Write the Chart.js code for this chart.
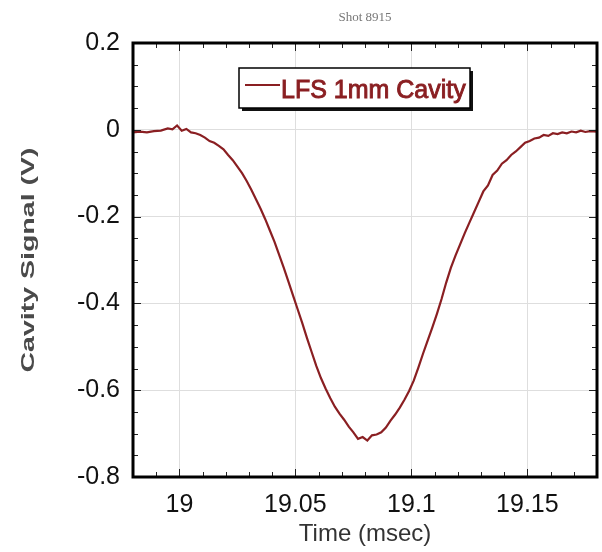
<!DOCTYPE html>
<html>
<head>
<meta charset="utf-8">
<title>Shot 8915</title>
<script src="https://cdn.jsdelivr.net/npm/chart.js@4.4.1/dist/chart.umd.min.js"></script>
<style>
  html, body { margin: 0; padding: 0; background: #fff; }
  #wrap { width: 602px; height: 552px; }
</style>
</head>
<body>
<div id="wrap"><canvas id="cavity-chart" width="602" height="552"></canvas></div>
<script>
  // Time axis samples (msec)
  const timeMs = [
    18.980, 18.983, 18.986, 18.989, 18.992, 18.995, 18.997, 18.999, 19.001, 19.003,
    19.005, 19.007, 19.009, 19.011, 19.013, 19.015, 19.017, 19.019, 19.021, 19.023,
    19.025, 19.027, 19.029, 19.031, 19.033, 19.035, 19.037, 19.039, 19.041, 19.043,
    19.045, 19.047, 19.049, 19.051, 19.053, 19.055, 19.057, 19.059, 19.061, 19.063,
    19.065, 19.067, 19.069, 19.071, 19.073, 19.075, 19.077, 19.079, 19.081, 19.083,
    19.085, 19.087, 19.089, 19.091, 19.093, 19.095, 19.097, 19.099, 19.101, 19.103,
    19.105, 19.107, 19.109, 19.111, 19.113, 19.115, 19.117, 19.119, 19.121, 19.123,
    19.125, 19.127, 19.129, 19.131, 19.133, 19.135, 19.137, 19.139, 19.141, 19.143,
    19.145, 19.147, 19.149, 19.151, 19.153, 19.155, 19.157, 19.159, 19.161, 19.163,
    19.165, 19.167, 19.169, 19.171, 19.173, 19.175, 19.177, 19.180
  ];

  // LFS 1mm cavity signal (V)
  const cavitySignal = [
    -0.006, -0.004, -0.006, -0.003, -0.002, 0.003, 0.001, 0.010, -0.002, 0.002,
    -0.006, -0.008, -0.012, -0.018, -0.026, -0.030, -0.037, -0.045, -0.058, -0.070,
    -0.085, -0.100, -0.118, -0.138, -0.160, -0.182, -0.206, -0.232, -0.258, -0.288,
    -0.318, -0.350, -0.382, -0.414, -0.446, -0.480, -0.512, -0.544, -0.572, -0.596,
    -0.618, -0.638, -0.654, -0.668, -0.684, -0.697, -0.712, -0.708, -0.716, -0.704,
    -0.702, -0.697, -0.686, -0.670, -0.656, -0.640, -0.622, -0.602, -0.578, -0.548,
    -0.516, -0.486, -0.456, -0.424, -0.390, -0.352, -0.318, -0.290, -0.264, -0.238,
    -0.214, -0.190, -0.166, -0.142, -0.128, -0.104, -0.094, -0.078, -0.070, -0.058,
    -0.050, -0.040, -0.030, -0.026, -0.020, -0.018, -0.012, -0.014, -0.008, -0.010,
    -0.006, -0.008, -0.004, -0.006, -0.002, -0.005, -0.003, -0.004
  ];

  const xTickValues = [19, 19.05, 19.1, 19.15];
  const yTickValues = [-0.8, -0.6, -0.4, -0.2, 0, 0.2];
  const seriesLabel = 'LFS 1mm Cavity';
  const yAxisLabel = 'Cavity Signal (V)';

  const lineColor = '#8a1f22';

  function fmt(v) {
    return String(Math.round(v * 1000) / 1000);
  }

  // Frame, inward minor ticks, y title and boxed legend
  const framePlugin = {
    id: 'frame',
    afterDraw: function (chart) {
      const ctx = chart.ctx;
      const a = chart.chartArea;
      const xs = chart.scales.x;
      const ys = chart.scales.y;
      ctx.save();

      // minor ticks
      ctx.strokeStyle = '#222';
      ctx.lineWidth = 1;
      ctx.beginPath();
      for (let i = 0; i <= 20; i++) {
        const v = 18.98 + i * 0.01;
        const px = Math.round(xs.getPixelForValue(v)) + 0.5;
        const len = (Math.abs(v * 20 - Math.round(v * 20)) < 1e-6) ? 8 : 5;
        ctx.moveTo(px, a.bottom); ctx.lineTo(px, a.bottom - len);
        ctx.moveTo(px, a.top); ctx.lineTo(px, a.top + len);
      }
      for (let j = 0; j <= 20; j++) {
        const v = -0.8 + j * 0.05;
        const py = Math.round(ys.getPixelForValue(v)) + 0.5;
        const len = (Math.abs(v * 5 - Math.round(v * 5)) < 1e-6) ? 8 : 5;
        ctx.moveTo(a.left, py); ctx.lineTo(a.left + len, py);
        ctx.moveTo(a.right, py); ctx.lineTo(a.right - len, py);
      }
      ctx.stroke();

      // frame
      ctx.strokeStyle = '#000';
      ctx.lineWidth = 3;
      ctx.strokeRect(a.left, a.top, a.right - a.left, a.bottom - a.top);

      // y axis title, stretched along its length like the original
      ctx.save();
      ctx.translate(29, (a.top + a.bottom) / 2);
      ctx.rotate(-Math.PI / 2);
      ctx.font = 'bold 19px "Liberation Sans", Arial, sans-serif';
      const tw = ctx.measureText(yAxisLabel).width;
      ctx.scale(225 / tw, 1);
      ctx.fillStyle = '#4a4a4a';
      ctx.textAlign = 'center';
      ctx.textBaseline = 'middle';
      ctx.fillText(yAxisLabel, 0, 0);
      ctx.restore();

      // legend box with drop shadow
      const bx = a.left + 106, by = a.top + 25, bw = 231, bh = 40;
      ctx.fillStyle = '#111';
      ctx.fillRect(bx + 3, by + 3, bw, bh);
      ctx.fillStyle = '#fff';
      ctx.fillRect(bx, by, bw, bh);
      ctx.strokeStyle = '#000';
      ctx.lineWidth = 1.5;
      ctx.strokeRect(bx, by, bw, bh);

      ctx.strokeStyle = lineColor;
      ctx.lineWidth = 2;
      ctx.beginPath();
      ctx.moveTo(bx + 6, by + 17);
      ctx.lineTo(bx + 41, by + 17);
      ctx.stroke();

      ctx.fillStyle = lineColor;
      ctx.strokeStyle = lineColor;
      ctx.lineWidth = 0.9;
      ctx.font = '25px "Liberation Sans", Arial, sans-serif';
      ctx.textBaseline = 'alphabetic';
      ctx.textAlign = 'left';
      ctx.fillText(seriesLabel, bx + 42, by + 30);
      ctx.strokeText(seriesLabel, bx + 42, by + 30);

      ctx.restore();
    }
  };

  const ctx = document.getElementById('cavity-chart').getContext('2d');
  const chart = new Chart(ctx, {
    type: 'line',
    data: {
      datasets: [{
        label: seriesLabel,
        data: timeMs.map(function (t, i) { return { x: t, y: cavitySignal[i] }; }),
        borderColor: lineColor,
        borderWidth: 2.2,
        pointRadius: 0,
        tension: 0,
        fill: false
      }]
    },
    options: {
      responsive: false,
      animation: false,
      layout: { padding: { left: 0, right: 5, top: 0, bottom: 0 } },
      plugins: {
        legend: { display: false },
        tooltip: { enabled: false },
        title: {
          display: true,
          fullSize: false,
          text: 'Shot 8915',
          color: '#777',
          font: { family: '"Liberation Serif", "Times New Roman", serif', size: 13, weight: 'normal' },
          padding: { top: 10, bottom: 17.4 }
        }
      },
      scales: {
        x: {
          type: 'linear',
          min: 18.98,
          max: 19.18,
          afterBuildTicks: function (scale) {
            scale.ticks = xTickValues.map(function (v) { return { value: v }; });
          },
          afterFit: function (scale) { scale.height = 75; },
          grid: { color: '#dedede', lineWidth: 1, drawTicks: false },
          border: { display: false },
          ticks: {
            padding: 13,
            color: '#111',
            font: { family: '"Liberation Sans", Arial, sans-serif', size: 25 },
            callback: function (v) { return fmt(v); }
          },
          title: {
            display: true,
            text: 'Time (msec)',
            color: '#333',
            font: { family: '"Liberation Sans", Arial, sans-serif', size: 24 },
            padding: { top: 0, bottom: 3 }
          }
        },
        y: {
          type: 'linear',
          min: -0.8,
          max: 0.2,
          afterBuildTicks: function (scale) {
            scale.ticks = yTickValues.map(function (v) { return { value: v }; });
          },
          afterFit: function (scale) { scale.width = 133; },
          grid: { color: '#dedede', lineWidth: 1, drawTicks: false },
          border: { display: false },
          ticks: {
            padding: 13,
            color: '#111',
            font: { family: '"Liberation Sans", Arial, sans-serif', size: 25 },
            callback: function (v) { return fmt(v); }
          },
          title: { display: false }
        }
      }
    },
    plugins: [framePlugin]
  });
</script>
</body>
</html>
